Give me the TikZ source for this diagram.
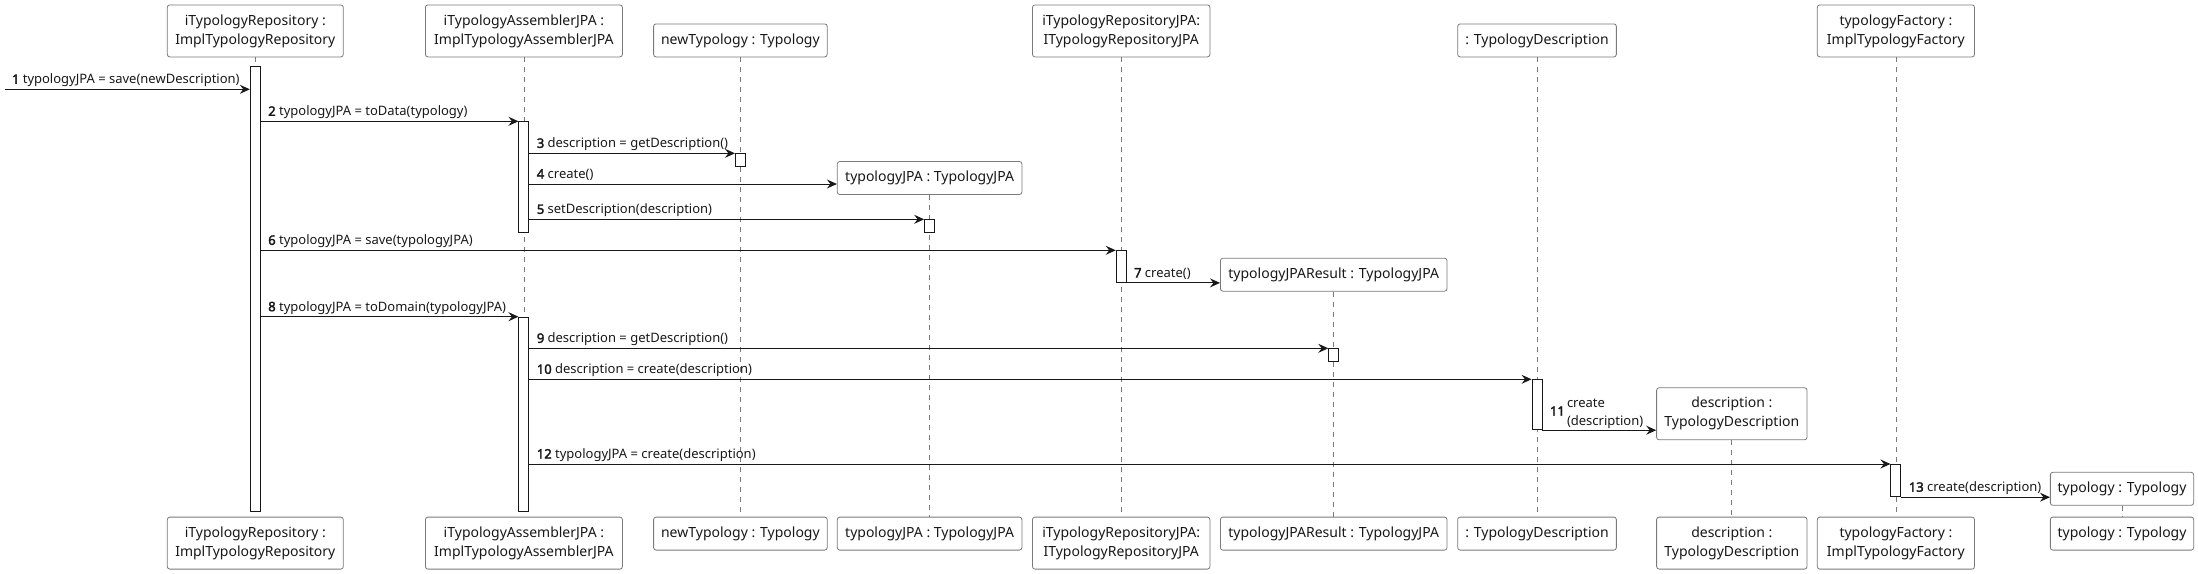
\documentclass[tikz,border=0pt]{standalone}
\usepackage{fontspec}
\setmainfont{Noto Sans}[BoldFont={Noto Sans}, BoldFeatures={FakeBold=2.5}]
\usepackage{tikz}
\usetikzlibrary{arrows.meta}
\definecolor{ink}{HTML}{181818}
\definecolor{frame}{HTML}{7A7A7A}
\tikzset{
  part/.style={draw=frame, fill=white, rounded corners=2.5pt, align=center, inner sep=2pt, text=ink, line width=0.8pt, font=\fontsize{14}{19}\selectfont},
  one/.style={part, minimum height=33pt},
  two/.style={part, minimum height=52pt},
  life/.style={draw=frame, dash pattern=on 5pt off 5pt, line width=0.7pt},
  act/.style={draw=ink, fill=white, minimum width=10pt, inner sep=0pt, anchor=north, line width=0.9pt},
  msg/.style={draw=ink, line width=1pt, -{Stealth[length=10pt, width=9pt, inset=3.5pt]}},
  lab/.style={anchor=base west, inner sep=0pt, xshift=7pt, yshift=5.5pt, text=ink, font=\fontsize{13}{18}\selectfont}
}
\begin{document}
\begin{tikzpicture}[x=1pt, y=-1pt]
  \useasboundingbox (0,0) rectangle (2198,573);
  % participants, top row
  \node[two, anchor=south, minimum width=176pt] (repo) at (255.3,57.3) {iTypologyRepository :\\ImplTypologyRepository};
  \node[two, anchor=south, minimum width=197pt] (asm) at (523.9,57.3) {iTypologyAssemblerJPA :\\ImplTypologyAssemblerJPA};
  \node[one, anchor=south, minimum width=173.6pt] (newt) at (740.4,57.3) {newTypology : Typology};
  \node[two, anchor=south, minimum width=177.5pt] (rjpa) at (1121.2,57.3) {iTypologyRepositoryJPA:\\ITypologyRepositoryJPA};
  \node[one, anchor=south, minimum width=158.7pt] (tdesc) at (1537,57.3) {: TypologyDescription};
  \node[two, anchor=south, minimum width=157.2pt] (fact) at (1895.9,57.3) {typologyFactory :\\ImplTypologyFactory};
  % created participants
  \node[one, minimum width=184.6pt] (jpa) at (929.6,178) {typologyJPA : TypologyJPA};
  \node[one, minimum width=226.6pt] (res) at (1333.7,274.7) {typologyJPAResult : TypologyJPA};
  \node[two, minimum width=150.4pt] (desc) at (1731.8,413.8) {description :\\TypologyDescription};
  \node[one, minimum width=143.3pt] (typ) at (2122,488.8) {typology : Typology};
  % participants, bottom row
  \node[two, anchor=north, minimum width=176pt] (repoB) at (255.3,516.7) {iTypologyRepository :\\ImplTypologyRepository};
  \node[two, anchor=north, minimum width=197pt] (asmB) at (523.9,516.7) {iTypologyAssemblerJPA :\\ImplTypologyAssemblerJPA};
  \node[one, anchor=north, minimum width=173.6pt] (newtB) at (740.4,516.7) {newTypology : Typology};
  \node[one, anchor=north, minimum width=184.6pt] (jpaB) at (929.6,516.7) {typologyJPA : TypologyJPA};
  \node[two, anchor=north, minimum width=177.5pt] (rjpaB) at (1121.2,516.7) {iTypologyRepositoryJPA:\\ITypologyRepositoryJPA};
  \node[one, anchor=north, minimum width=226.6pt] (resB) at (1333.7,516.7) {typologyJPAResult : TypologyJPA};
  \node[one, anchor=north, minimum width=158.7pt] (tdescB) at (1537,516.7) {: TypologyDescription};
  \node[two, anchor=north, minimum width=150.4pt] (descB) at (1731.8,516.7) {description :\\TypologyDescription};
  \node[two, anchor=north, minimum width=157.2pt] (factB) at (1895.9,516.7) {typologyFactory :\\ImplTypologyFactory};
  \node[one, anchor=north, minimum width=143.3pt] (typB) at (2122,516.7) {typology : Typology};
  % lifelines
  \foreach \p in {repo,asm,newt,jpa,rjpa,res,tdesc,desc,fact,typ}
    \draw[life] (\p.south) -- (\p B.north);
  % activations
  \node[act, minimum height=444.7pt] (a1) at (255.3,66.3) {};
  \node[act, minimum height=111pt] (a2) at (523.9,121.3) {};
  \node[act, minimum height=12.7pt] (a3) at (740.4,153.3) {};
  \node[act, minimum height=13pt] (a4) at (929.6,219.3) {};
  \node[act, minimum height=31.7pt] (a5) at (1121.2,250.3) {};
  \node[act, minimum height=194.3pt] (a6) at (523.9,316.7) {};
  \node[act, minimum height=12.7pt] (a7) at (1333.7,348.3) {};
  \node[act, minimum height=50pt] (a8) at (1537,379.3) {};
  \node[act, minimum height=32.3pt] (a9) at (1895.9,464) {};
  % messages
  \coordinate (in) at (4.5,89.3);
  \draw[msg] (in) -- (a1.west |- in) node[lab, pos=0] {\textbf{1} typologyJPA = save(newDescription)};
  \draw[msg] (a1.east |- a2.north) -- (a2.north west) node[lab, pos=0] {\textbf{2} typologyJPA = toData(typology)};
  \draw[msg] (a2.east |- a3.north) -- (a3.north west) node[lab, pos=0] {\textbf{3} description = getDescription()};
  \draw[msg] (a2.east |- 0,184) -- (jpa.west |- 0,184) node[lab, pos=0] {\textbf{4} create()};
  \draw[msg] (a2.east |- a4.north) -- (a4.north west) node[lab, pos=0] {\textbf{5} setDescription(description)};
  \draw[msg] (a1.east |- a5.north) -- (a5.north west) node[lab, pos=0] {\textbf{6} typologyJPA = save(typologyJPA)};
  \draw[msg] (a5.south east) -- (res.west |- a5.south) node[lab, pos=0] {\textbf{7} create()};
  \draw[msg] (a1.east |- a6.north) -- (a6.north west) node[lab, pos=0] {\textbf{8} typologyJPA = toDomain(typologyJPA)};
  \draw[msg] (a6.east |- a7.north) -- (a7.north west) node[lab, pos=0] {\textbf{9} description = getDescription()};
  \draw[msg] (a6.east |- a8.north) -- (a8.north west) node[lab, pos=0] {\textbf{10} description = create(description)};
  \draw[msg] (a8.south east) -- (desc.west |- a8.south) node[lab, pos=0, yshift=9pt] {\textbf{11}\,\begin{tabular}[c]{@{}l@{}}create\\ (description)\end{tabular}};
  \draw[msg] (a6.east |- a9.north) -- (a9.north west) node[lab, pos=0] {\textbf{12} typologyJPA = create(description)};
  \draw[msg] (a9.south east) -- (typ.west |- a9.south) node[lab, pos=0] {\textbf{13} create(description)};
\end{tikzpicture}
\end{document}
